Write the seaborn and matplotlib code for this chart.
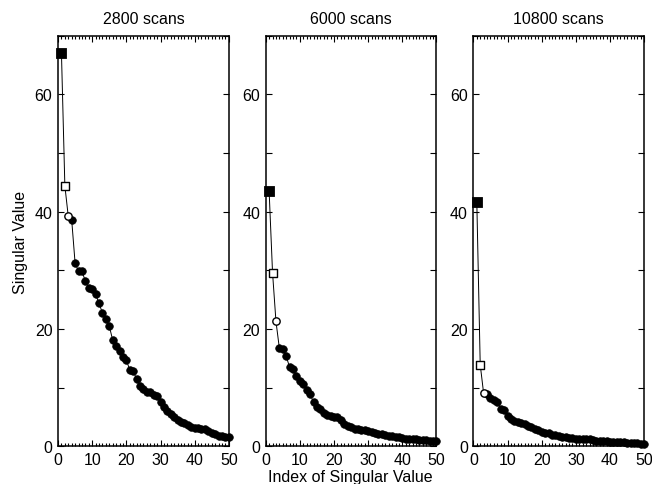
import numpy as np
import pandas as pd
import seaborn as sns
import matplotlib.pyplot as plt
from matplotlib.ticker import MultipleLocator

sns.set_theme(style="ticks")
plt.rcParams['font.family'] = ['Liberation Sans', 'DejaVu Sans']
plt.rcParams['text.color'] = 'black'
plt.rcParams['axes.labelcolor'] = 'black'
plt.rcParams['xtick.color'] = 'black'
plt.rcParams['ytick.color'] = 'black'

titles = ["2800 scans", "6000 scans", "10800 scans"]

sv_2800 = [67.1, 44.4, 39.2, 38.6, 31.2, 29.9, 29.8, 28.2, 26.9, 26.8,
           25.9, 24.4, 22.7, 21.7, 20.5, 18.1, 17.1, 16.3, 15.2, 14.7,
           13.0, 12.8, 11.5, 10.3, 9.8, 9.3, 9.2, 8.8, 8.5, 7.6,
           6.6, 6.0, 5.5, 4.9, 4.5, 4.2, 3.9, 3.6, 3.3, 3.1,
           3.1, 3.0, 2.9, 2.6, 2.3, 2.0, 1.8, 1.7, 1.6, 1.5]

sv_6000 = [43.5, 29.6, 21.3, 16.7, 16.5, 15.3, 13.5, 13.1, 11.9, 11.1,
           10.6, 9.6, 8.9, 7.5, 6.7, 6.3, 5.6, 5.4, 5.1, 5.0,
           4.9, 4.4, 3.7, 3.4, 3.2, 3.0, 3.0, 2.8, 2.7, 2.65,
           2.5, 2.3, 2.1, 2.0, 1.85, 1.7, 1.65, 1.55, 1.5, 1.4,
           1.3, 1.25, 1.2, 1.15, 1.1, 1.05, 1.0, 0.95, 0.9, 0.85]

sv_10800 = [41.7, 13.9, 9.0, 8.9, 8.2, 7.9, 7.6, 6.4, 6.2, 5.2,
            4.7, 4.3, 4.1, 4.0, 3.8, 3.4, 3.2, 3.0, 2.8, 2.4,
            2.3, 2.2, 1.95, 1.85, 1.7, 1.6, 1.55, 1.45, 1.4, 1.3,
            1.3, 1.25, 1.2, 1.15, 1.0, 0.85, 0.85, 0.8, 0.8, 0.75,
            0.75, 0.7, 0.7, 0.65, 0.6, 0.6, 0.55, 0.5, 0.45, 0.4]

series = [sv_2800, sv_6000, sv_10800]
index = np.arange(1, 51)

fig, axes = plt.subplots(1, 3, figsize=(6.52, 4.85), dpi=100)
fig.subplots_adjust(left=0.089, right=0.988, top=0.924, bottom=0.078, wspace=0.216)

for ax, title, vals in zip(axes, titles, series):
    df = pd.DataFrame({"Index": index, "Value": vals})
    df["Kind"] = ["first", "second", "third"] + ["rest"] * (len(vals) - 3)

    sns.lineplot(data=df, x="Index", y="Value", ax=ax, color="black", lw=0.7)

    rest = df[df["Kind"] == "rest"]
    sns.scatterplot(data=rest, x="Index", y="Value", ax=ax, marker="o", s=30,
                    color="black", edgecolor="black", linewidth=0.5, zorder=3, clip_on=False)
    sns.scatterplot(data=df[df["Kind"] == "first"], x="Index", y="Value", ax=ax, marker="s",
                    s=55, color="black", edgecolor="black", zorder=4, clip_on=False)
    sns.scatterplot(data=df[df["Kind"] == "second"], x="Index", y="Value", ax=ax, marker="s",
                    s=28, facecolor="white", edgecolor="black", linewidth=1.0, zorder=4)
    sns.scatterplot(data=df[df["Kind"] == "third"], x="Index", y="Value", ax=ax, marker="o",
                    s=28, facecolor="white", edgecolor="black", linewidth=1.0, zorder=4)

    ax.set_xlim(0, 50)
    ax.set_ylim(0, 70)
    ax.xaxis.set_major_locator(MultipleLocator(10))
    ax.xaxis.set_minor_locator(MultipleLocator(1))
    ax.yaxis.set_major_locator(MultipleLocator(20))
    ax.yaxis.set_minor_locator(MultipleLocator(10))
    ax.tick_params(which="both", direction="in", top=True, right=True,
                   labelsize=11.5, width=0.8, pad=4)
    ax.tick_params(which="major", length=4)
    ax.tick_params(axis="x", which="minor", length=2.5)
    ax.tick_params(axis="y", which="minor", length=4)
    for sp in ax.spines.values():
        sp.set_linewidth(1.1)
        sp.set_color("black")
    ax.set_title(title, fontsize=11.5, pad=9)
    ax.set_xlabel("")
    ax.set_ylabel("")

axes[0].set_ylabel("Singular Value", fontsize=11.5, labelpad=5)
fig.text(0.537, 0.0, "Index of Singular Value", ha="center", va="bottom", fontsize=11.5)

fig.savefig("out.png", dpi=100)
